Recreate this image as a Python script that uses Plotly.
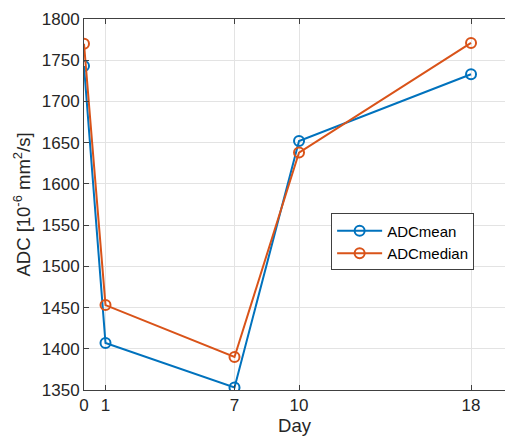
import plotly.graph_objects as go

days = [0, 1, 7, 10, 18]
adc_mean = [1743, 1407, 1353, 1652, 1733]
adc_median = [1770, 1453, 1390, 1638, 1771]
x_ticks = [0, 1, 7, 10, 18]
y_ticks = [1350, 1400, 1450, 1500, 1550, 1600, 1650, 1700, 1750, 1800]

BLUE = "#0072BD"
ORANGE = "#D95319"
FONT = "Liberation Sans, Arial, sans-serif"
AX = "#262626"

fig = go.Figure()
fig.add_trace(go.Scatter(x=days, y=adc_mean, name="ADCmean", mode="lines+markers",
                         line=dict(color=BLUE, width=2),
                         marker=dict(symbol="circle-open", size=10, color=BLUE,
                                     line=dict(width=2, color=BLUE))))
fig.add_trace(go.Scatter(x=days, y=adc_median, name="ADCmedian", mode="lines+markers",
                         line=dict(color=ORANGE, width=2),
                         marker=dict(symbol="circle-open", size=10, color=ORANGE,
                                     line=dict(width=2, color=ORANGE))))

# page body has an 8px offset; figure sized to fit inside the window without overflow
fig.update_layout(
    width=497, height=428,
    margin=dict(l=76, r=0, t=11, b=46, autoexpand=False),
    paper_bgcolor="white", plot_bgcolor="white",
    font=dict(family=FONT, size=15, color=AX),
    showlegend=True,
    legend=dict(x=0.587, y=0.476, xanchor="left", yanchor="top",
                bgcolor="white", bordercolor="#404040", borderwidth=1,
                font=dict(size=15, color="#000000"), tracegroupgap=0,
                itemwidth=45),
    xaxis=dict(range=[0, 19.58], tickmode="array", tickvals=x_ticks,
               ticktext=[str(t) for t in x_ticks],
               showgrid=True, gridcolor="#e3e3e3", gridwidth=1,
               showline=True, linecolor="#404040", linewidth=1, mirror="ticks",
               ticks="inside", ticklen=5, tickcolor="#404040",
               zeroline=False, tickfont=dict(size=17, color=AX),
               title=dict(text="Day", font=dict(size=18.5, color=AX), standoff=6)),
    yaxis=dict(range=[1350, 1800], tickmode="array", tickvals=y_ticks,
               showgrid=True, gridcolor="#e3e3e3", gridwidth=1,
               showline=True, linecolor="#404040", linewidth=1, mirror=False,
               ticks="inside", ticklen=5, tickcolor="#404040",
               zeroline=False, tickfont=dict(size=17, color=AX),
               title=dict(text="ADC [10<sup>-6</sup> mm<sup>2</sup>/s]",
                          font=dict(size=18.5, color=AX), standoff=6)),
)

fig.write_html("out.html")
